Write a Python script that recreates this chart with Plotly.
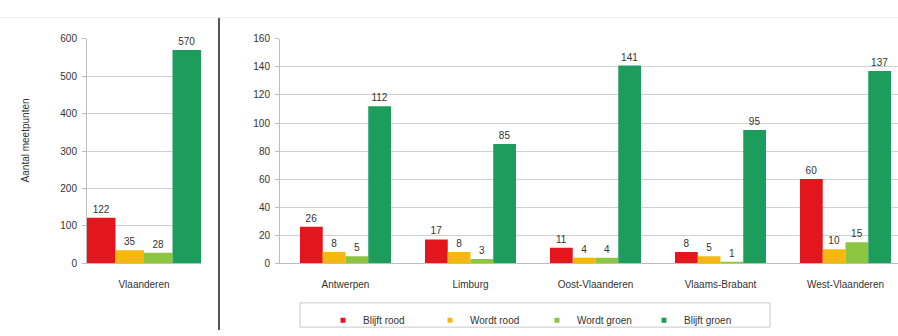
import plotly.graph_objects as go

# ---- data ----
regions = ["Antwerpen", "Limburg", "Oost-Vlaanderen", "Vlaams-Brabant", "West-Vlaanderen"]
blijft_rood = [26, 17, 11, 8, 60]
wordt_rood = [8, 8, 4, 5, 10]
wordt_groen = [5, 3, 4, 1, 15]
blijft_groen = [112, 85, 141, 95, 137]

total_label = ["Vlaanderen"]
total_blijft_rood = [122]
total_wordt_rood = [35]
total_wordt_groen = [28]
total_blijft_groen = [570]

series_names = ["Blijft rood", "Wordt rood", "Wordt groen", "Blijft groen"]
colors = ["#e3161d", "#f6b70f", "#8cc540", "#1d9d5b"]

FONT = "Arial, Liberation Sans, sans-serif"
TXT = "#333333"

fig = go.Figure()

left_vals = [total_blijft_rood, total_wordt_rood, total_wordt_groen, total_blijft_groen]
right_vals = [blijft_rood, wordt_rood, wordt_groen, blijft_groen]

for name, col, vals in zip(series_names, colors, left_vals):
    fig.add_trace(go.Bar(x=total_label, y=vals, name=name, marker_color=col,
                         marker_line_width=0, showlegend=False,
                         text=vals, textposition="outside", cliponaxis=False,
                         constraintext="none",
                         textfont=dict(size=10, color=TXT, family=FONT),
                         xaxis="x", yaxis="y", offsetgroup=name))

for name, col, vals in zip(series_names, colors, right_vals):
    fig.add_trace(go.Bar(x=regions, y=vals, name=name, marker_color=col,
                         marker_line_width=0, showlegend=False,
                         text=vals, textposition="outside", cliponaxis=False,
                         constraintext="none",
                         textfont=dict(size=10, color=TXT, family=FONT),
                         xaxis="x2", yaxis="y2", offsetgroup=name))

# legend entries with small square markers
for name, col in zip(series_names, colors):
    fig.add_trace(go.Scatter(x=[None], y=[None], mode="markers", name=name,
                             marker=dict(symbol="square", size=5, color=col),
                             xaxis="x2", yaxis="y2", showlegend=True))

W, H = 898, 336
def px(x):
    return x / W
def py(y):
    return 1 - y / H

ydom = [py(267), py(35)]
axis_common = dict(showgrid=True, gridcolor="#d0d0d0", gridwidth=1,
                   showline=True, linecolor="#bdbdbd", linewidth=1,
                   ticks="outside", ticklen=4, tickcolor="#bdbdbd",
                   tickfont=dict(size=10, color=TXT, family=FONT),
                   ticklabelstandoff=3, zeroline=False)

fig.update_layout(
    width=W, height=H,
    margin=dict(l=0, r=0, t=0, b=0),
    paper_bgcolor="white", plot_bgcolor="white",
    barmode="group", bargap=0.272, bargroupgap=0,
    font=dict(family=FONT, size=10, color=TXT),
    xaxis=dict(domain=[px(87), px(201)], range=[-0.364, 0.364],
               showline=True, linecolor="#bdbdbd", showgrid=False,
               ticks="", tickfont=dict(size=10, color=TXT, family=FONT),
               ticklabelstandoff=12, fixedrange=True),
    yaxis=dict(domain=ydom, range=[0, 600], dtick=100, **axis_common),
    xaxis2=dict(domain=[px(280), 1.0], range=[-0.524, 4.42],
                showline=True, linecolor="#bdbdbd", showgrid=False,
                ticks="", tickfont=dict(size=10, color=TXT, family=FONT),
                ticklabelstandoff=12, anchor="y2"),
    yaxis2=dict(domain=ydom, range=[0, 160], dtick=20, anchor="x2", **axis_common),
    legend=dict(orientation="h", x=px(537), xanchor="center", y=py(326), yanchor="middle",
                borderwidth=0, bgcolor="rgba(0,0,0,0)",
                font=dict(size=10, color=TXT, family=FONT),
                itemwidth=30, entrywidth=62),
    annotations=[
        dict(text="Aantal meetpunten", xref="paper", yref="paper", x=px(25), y=py(140),
             textangle=-90, showarrow=False, xanchor="center", yanchor="middle",
             font=dict(size=10, color=TXT, family=FONT)),
    ],
    shapes=[
        dict(type="line", xref="paper", yref="paper", x0=px(219), x1=px(219),
             y0=py(13), y1=0, line=dict(color="#555555", width=2)),
        dict(type="line", xref="paper", yref="paper", x0=0, x1=1,
             y0=py(13), y1=py(13), line=dict(color="#ececec", width=1)),
        dict(type="rect", xref="paper", yref="paper", x0=px(300), x1=px(770),
             y0=py(333), y1=py(308), line=dict(color="#c8c8c8", width=1),
             layer="below"),
    ],
)

fig.write_html("out.html")
